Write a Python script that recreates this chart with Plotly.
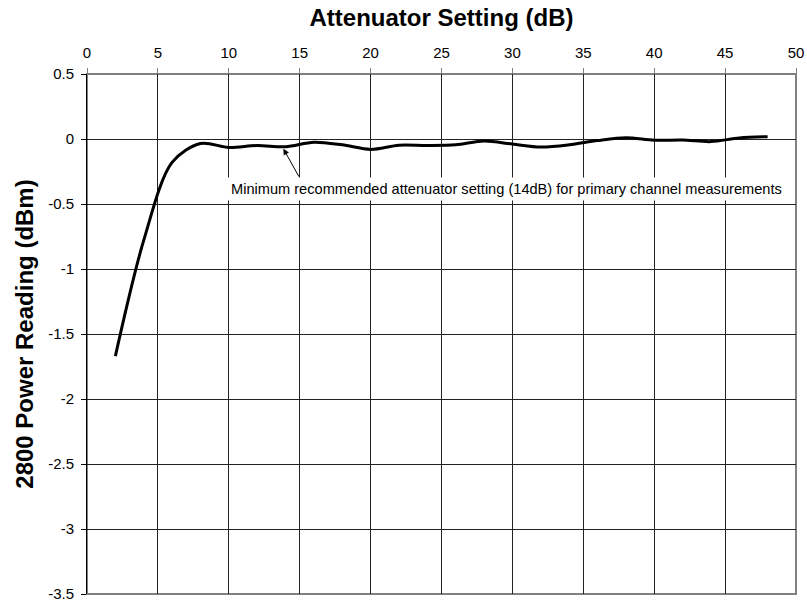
import plotly.graph_objects as go

atten_db = [2, 4, 6, 8, 10, 12, 14, 16, 18, 20, 22, 24, 26, 28, 30, 32, 34, 36, 38, 40, 42, 44, 46, 48]
power_dbm = [-1.67, -0.78, -0.18, -0.035, -0.065, -0.05, -0.06, -0.025, -0.045, -0.08, -0.048, -0.05,
             -0.045, -0.016, -0.039, -0.062, -0.045, -0.012, 0.01, -0.01, -0.008, -0.02, 0.008, 0.018]
x_ticks = [0, 5, 10, 15, 20, 25, 30, 35, 40, 45, 50]
y_ticks = [0.5, 0, -0.5, -1, -1.5, -2, -2.5, -3, -3.5]

FONT = "Liberation Sans, Arial, sans-serif"

fig = go.Figure()
fig.add_trace(go.Scatter(
    x=atten_db, y=power_dbm, mode="lines",
    line=dict(color="black", width=3, shape="spline", smoothing=0.9),
    showlegend=False, hoverinfo="skip",
))

fig.update_layout(
    width=807, height=606,
    margin=dict(l=87, r=11, t=74, b=12),
    paper_bgcolor="white", plot_bgcolor="white",
    font=dict(family=FONT, size=15, color="black"),
    xaxis=dict(
        side="top", range=[0, 50], tickvals=x_ticks, automargin=False,
        showgrid=True, gridcolor="#222222", gridwidth=1,
        zeroline=False, showline=False,
        ticks="outside", ticklen=5, tickcolor="#808080",
        ticklabelstandoff=4, tickfont=dict(size=15),
        title=dict(text="<b>Attenuator Setting (dB)</b>", font=dict(size=24, family=FONT), standoff=10),
    ),
    yaxis=dict(
        range=[-3.5, 0.5], tickvals=y_ticks, automargin=False,
        ticktext=[str(v) for v in y_ticks],
        showgrid=True, gridcolor="#222222", gridwidth=1,
        zeroline=False, showline=True, linecolor="black", linewidth=1,
        ticks="outside", ticklen=5, tickcolor="black",
        ticklabelstandoff=4, tickfont=dict(size=15),
        title=dict(text="<b>2800 Power Reading (dBm)</b>", font=dict(size=24, family=FONT), standoff=7),
    ),
    shapes=[dict(type="rect", xref="paper", yref="paper", x0=0, x1=1, y0=0, y1=1,
                 line=dict(color="#808080", width=2), layer="below")],
    annotations=[
        dict(x=9.85, y=-0.385, xref="x", yref="y", xanchor="left", yanchor="middle",
             text="Minimum recommended attenuator setting (14dB) for primary channel measurements",
             showarrow=False, bgcolor="white", font=dict(size=14.6, family=FONT), borderpad=3),
        dict(x=13.85, y=-0.075, xref="x", yref="y", axref="x", ayref="y",
             ax=15.0, ay=-0.3, text="", showarrow=True,
             arrowhead=2, arrowsize=1.2, arrowwidth=1, arrowcolor="black"),
    ],
)

fig.write_html("out.html", config={"displayModeBar": False},
               post_script="document.body.style.margin='0';")
